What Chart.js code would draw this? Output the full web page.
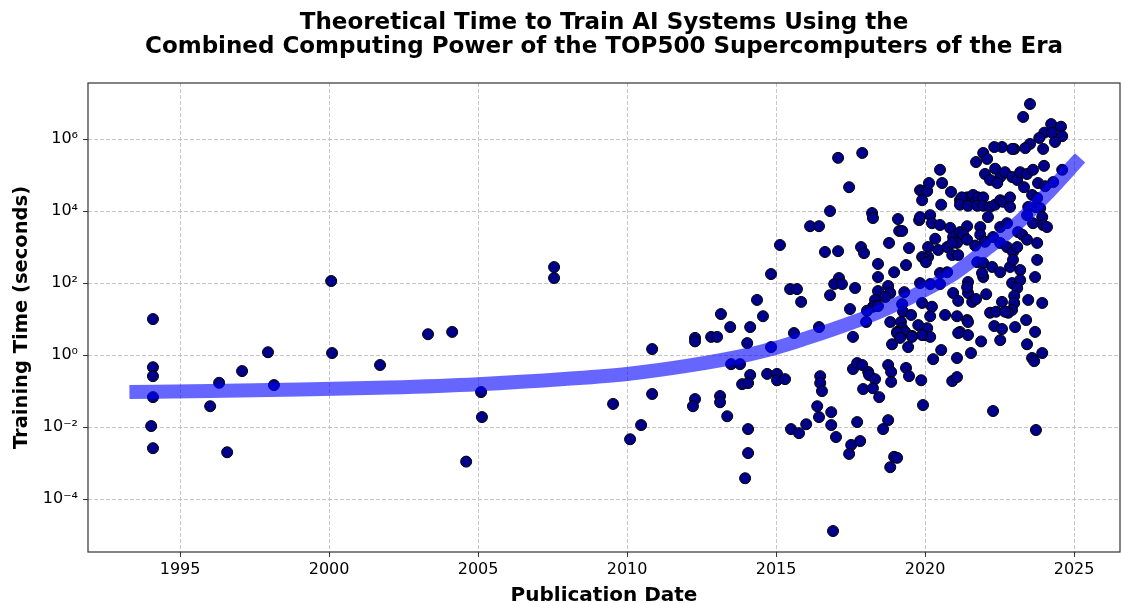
<!DOCTYPE html>
<html>
<head>
<meta charset="utf-8">
<script src="https://cdn.jsdelivr.net/npm/chart.js@4/dist/chart.umd.min.js"></script>
<style>
  html, body { margin: 0; padding: 0; background: #fff; }
  canvas { display: block; }
</style>
</head>
<body>
<canvas id="chart" width="1121" height="603"></canvas>
<script>
// publication date (decimal year) and training time in seconds
const pubYears = [
  1994.09, 1994.09, 1994.09, 1994.09, 1994.03, 1994.09, 1996.01, 1996.31, 1996.58, 1997.08,
  1997.95, 1998.15, 2000.07, 2000.10, 2001.71, 2003.32, 2004.13, 2005.10, 2005.13, 2004.60,
  2007.55, 2007.55, 2009.53, 2010.10, 2010.47, 2010.84, 2010.84,
  2012.28, 2012.28, 2012.82, 2013.02, 2013.15, 2013.46, 2014.13, 2014.36, 2014.56, 2014.83,
  2014.03, 2014.83, 2013.49, 2013.79, 2014.13, 2013.86, 2014.06, 2014.70, 2015.03, 2015.03,
  2015.30, 2012.28, 2012.21, 2013.12, 2013.12, 2013.36, 2014.06, 2014.06, 2013.96, 2015.13,
  2015.47, 2015.70, 2015.84, 2015.60, 2015.50, 2015.77, 2016.01,
  2017.08, 2017.89, 2017.45, 2016.81, 2018.22, 2018.25, 2016.14, 2016.44, 2019.09, 2019.13,
  2019.23, 2019.80, 2016.64, 2017.08, 2017.85, 2017.95, 2018.79, 2019.46, 2018.42, 2019.36,
  2018.96, 2018.42, 2016.81, 2017.11, 2016.95, 2017.21, 2017.65, 2017.48, 2018.42, 2018.76,
  2018.83, 2018.66, 2018.32, 2018.25, 2018.05, 2018.42, 2019.30, 2019.23, 2019.26, 2019.53,
  2018.83, 2019.19, 2019.23, 2019.06, 2019.33, 2019.56, 2019.77, 2018.02, 2016.44, 2017.58,
  2016.48, 2016.48, 2016.54, 2016.38, 2016.44, 2016.85, 2016.85, 2017.01, 2016.91, 2017.58,
  2017.72, 2017.89, 2018.09, 2018.12, 2018.32, 2017.92, 2018.25, 2018.46, 2017.72, 2017.52,
  2017.45, 2017.82, 2018.76, 2018.59, 2018.83, 2018.96, 2019.06, 2018.76, 2018.86, 2018.86,
  2019.36, 2019.46, 2019.87, 2019.93, 2018.89, 2019.06, 2019.16, 2019.43, 2019.56, 2020.00,
  2019.90,
  2019.83, 2019.93, 2020.07, 2019.90, 2020.13, 2020.57, 2020.50, 2020.87, 2020.54, 2021.17,
  2021.41, 2021.61, 2021.68, 2020.17, 2020.23, 2020.50, 2020.84, 2020.94, 2021.17, 2021.07,
  2020.10, 2020.34, 2020.44, 2020.10, 2020.74, 2020.91, 2021.11, 2020.91, 2019.90, 2020.00,
  2020.03, 2020.50, 2020.74, 2019.83, 2020.17, 2020.50, 2020.94, 2021.11, 2021.44, 2021.44,
  2021.41, 2020.23, 2020.17, 2020.67, 2021.07, 2021.41, 2020.07, 2020.17, 2019.90, 2021.17,
  2021.44, 2020.54, 2021.54, 2021.07, 2020.27, 2020.91, 2021.07,
  2023.52, 2023.29, 2024.23, 2024.56, 2024.00, 2024.26, 2024.60, 2023.83, 2024.36, 2023.52,
  2023.96, 2023.36, 2022.99, 2022.92, 2022.58, 2022.32, 2021.95, 2021.71, 2022.08, 2022.01,
  2022.35, 2022.52, 2022.68, 2022.92, 2023.09, 2023.19, 2023.42, 2023.62, 2023.99, 2023.32,
  2023.79, 2024.03, 2024.30, 2024.60, 2022.18, 2022.42, 2021.23, 2021.78, 2021.95, 2021.17,
  2021.44, 2021.75, 2021.95, 2022.18, 2022.35, 2022.52, 2022.62, 2022.85, 2022.85, 2023.46,
  2023.59, 2023.69, 2023.86, 2023.76, 2019.83, 2021.41, 2021.85, 2022.11, 2022.52, 2022.75,
  2023.12, 2023.42, 2023.62, 2023.93, 2023.96, 2024.09, 2021.28, 2021.41, 2021.68, 2021.85,
  2022.01, 2022.28, 2022.52, 2022.75, 2022.95, 2023.26, 2023.42, 2023.76, 2023.76, 2023.09,
  2021.75, 2021.95, 2022.25, 2021.95, 2022.52, 2022.85, 2022.95, 2023.19, 2023.69,
  2021.91, 2022.92, 2023.19, 2023.09, 2022.99, 2022.99, 2022.92, 2022.79, 2021.58, 2021.71,
  2022.05, 2022.58, 2023.46, 2023.93, 2021.44, 2022.18, 2022.38, 2022.68, 2022.32, 2022.58,
  2023.02, 2023.39, 2023.69, 2021.11, 2021.88, 2022.52, 2023.42, 2023.59, 2023.66, 2023.93,
  2022.28, 2023.72
];
const trainSeconds = [
  10, 0.46, 0.26, 0.068, 0.0107, 0.0026, 0.038, 0.17, 0.002, 0.36,
  1.2, 0.147, 114, 1.14, 0.53, 3.8, 4.4, 0.094, 0.019, 0.0011,
  278, 138, 0.044, 0.0046, 0.0114, 1.47, 0.083,
  3.0, 2.4, 3.2, 3.2, 13.8, 6.0, 6.0, 34, 12, 178,
  2.15, 1.67, 0.56, 0.56, 0.28, 0.156, 0.167, 0.3, 0.3, 0.2,
  0.215, 0.06, 0.038, 0.073, 0.049, 0.02, 0.0088, 0.0019, 0.00038, 1140,
  68, 68, 30, 4.1, 0.0088, 0.0068, 0.012,
  3.0e5, 4.1e5, 4.6e4, 1.0e4, 8800, 6400, 3800, 3800, 6000, 2800,
  2800, 5600, 730, 770, 1000, 680, 1300, 940, 340, 316,
  200, 147, 46, 138, 94, 94, 73, 19, 60, 83,
  53, 41, 34, 22, 17, 23, 56, 26, 16, 13,
  8.3, 8.3, 5.6, 4.4, 4.4, 3.4, 6.8, 8.3, 6.0, 3.2,
  0.26, 0.167, 0.1, 0.038, 0.019, 0.026, 0.0114, 0.0053, 1.3e-5, 0.41,
  0.6, 0.53, 0.34, 0.28, 0.215, 0.114, 0.12, 0.068, 0.0138, 0.0032,
  0.0018, 0.0041, 0.0156, 0.0088, 0.00077, 0.0015, 0.0014, 0.53, 0.34, 0.18,
  0.44, 0.26, 0.2, 0.041, 2.0, 4.1, 3.0, 1.67, 3.2, 3.6,
  28,
  3.8e4, 3.6e4, 3.6e4, 2.0e4, 6.0e4, 6.0e4, 1.4e5, 3.4e4, 1.5e4, 2.0e4,
  2.4e4, 2.8e4, 1.8e4, 7700, 4600, 4100, 3400, 1900, 2600, 1300,
  1000, 1700, 830, 530, 1000, 600, 600, 1300, 530, 460,
  380, 190, 200, 100, 94, 94, 53, 32, 107, 53,
  77, 22, 12, 13, 12, 9.4, 5.6, 3.2, 3.6, 4.4,
  3.6, 1.38, 1.14, 0.83, 0.77, 0.19, 0.245,
  9.4e6, 4.1e6, 2.6e6, 2.2e6, 1.5e6, 1.5e6, 1.2e6, 1.07e6, 8.3e5, 7.3e5,
  5.3e5, 5.6e5, 5.3e5, 5.3e5, 6.0e5, 6.0e5, 4.1e5, 2.3e5, 2.8e5, 1.07e5,
  1.5e5, 8.8e4, 1.2e5, 8.8e4, 7.3e4, 1.2e5, 1.07e5, 1.4e5, 1.8e5, 4.6e4,
  6.0e4, 4.9e4, 6.4e4, 1.4e5, 7.3e4, 6.0e4, 2.4e4, 2.4e4, 2.4e4, 1.5e4,
  1.4e4, 1.4e4, 1.4e4, 1.3e4, 1.5e4, 2.0e4, 1.8e4, 2.4e4, 1.3e4, 1.3e4,
  2.8e4, 1.3e4, 1.2e4, 2.3e4, 6800, 3800, 3600, 6800, 3600, 4600,
  2600, 7700, 4600, 6800, 4100, 3600, 2200, 1600, 1100, 2200,
  1400, 1900, 1300, 1000, 730, 2200, 1600, 1300, 440, 1000,
  380, 360, 280, 147, 200, 280, 440, 230, 147,
  190, 100, 121, 73, 44, 28, 18, 15, 30, 36,
  49, 30, 34, 28, 8.3, 15, 16, 16, 6.4, 5.3,
  6.0, 9.4, 4.4, 4.1, 2.4, 2.6, 2.0, 0.83, 0.68, 1.14,
  0.028, 0.0083
];

// fitted trend
const trendYears = [1993.3, 1996, 1999, 2002, 2005, 2008, 2010, 2012, 2014, 2015, 2016, 2017, 2018, 2019, 2020, 2021, 2022, 2023, 2024, 2025.2];
const trendSeconds = [0.095, 0.1, 0.11, 0.125, 0.155, 0.22, 0.3, 0.5, 1.0, 1.6, 2.9, 5.5, 11, 25, 65, 190, 800, 3800, 25000, 3.0e5];

const xTicks = [1995, 2000, 2005, 2010, 2015, 2020, 2025];
const yTicks = [1e-4, 1e-2, 1, 1e2, 1e4, 1e6];

const sup = { '-': '\u207B', '0': '\u2070', '1': '\u00B9', '2': '\u00B2', '3': '\u00B3',
  '4': '\u2074', '5': '\u2075', '6': '\u2076', '7': '\u2077', '8': '\u2078', '9': '\u2079' };
const powLabel = v => '10' + String(Math.round(Math.log10(v))).split('').map(c => sup[c]).join('');

// matplotlib-like box around the axes
const frame = {
  id: 'frame',
  afterDraw(chart) {
    const { ctx, chartArea: a } = chart;
    ctx.save();
    ctx.strokeStyle = '#333';
    ctx.lineWidth = 1.2;
    ctx.strokeRect(a.left, a.top, a.right - a.left, a.bottom - a.top);
    ctx.restore();
  }
};

const gridStyle = {
  color: '#b8b8b8',
  lineWidth: 0.8,
  tickColor: '#333',
  tickLength: 5,
  tickWidth: 1,
  tickBorderDash: []
};

new Chart(document.getElementById('chart'), {
  type: 'scatter',
  data: {
    datasets: [
      {
        type: 'line',
        data: trendYears.map((x, i) => ({ x, y: trendSeconds[i] })),
        borderColor: 'rgba(0, 0, 255, 0.6)',
        borderWidth: 14,
        borderCapStyle: 'butt',
        tension: 0.4,
        cubicInterpolationMode: 'monotone',
        pointRadius: 0,
        fill: false
      },
      {
        data: pubYears.map((x, i) => ({ x, y: trainSeconds[i] })),
        backgroundColor: '#00008b',
        borderColor: '#000',
        borderWidth: 1,
        pointRadius: 5.5
      }
    ]
  },
  options: {
    responsive: false,
    animation: false,
    devicePixelRatio: 1,
    layout: { autoPadding: false, padding: { left: 0, right: 1, top: 0, bottom: 0 } },
    plugins: {
      legend: { display: false },
      tooltip: { enabled: false },
      title: {
        display: true,
        fullSize: false,
        text: ['Theoretical Time to Train AI Systems Using the',
               'Combined Computing Power of the TOP500 Supercomputers of the Era'],
        color: '#000',
        font: { family: 'DejaVu Sans', size: 23, weight: 'bold', lineHeight: 1.05 },
        padding: { top: 11, bottom: 23.7 }
      }
    },
    scales: {
      x: {
        type: 'linear',
        min: 1991.91,
        max: 2026.54,
        afterBuildTicks: s => { s.ticks = xTicks.map(v => ({ value: v })); },
        afterFit: s => { s.height = 51; s.paddingLeft = 0; s.paddingRight = 0; },
        ticks: {
          color: '#000',
          font: { family: 'DejaVu Sans', size: 16 },
          padding: 3,
          maxRotation: 0,
          autoSkip: false,
          callback: v => String(v)
        },
        grid: gridStyle,
        border: { display: false, dash: [4, 2] },
        title: {
          display: true,
          text: 'Publication Date',
          color: '#000',
          font: { family: 'DejaVu Sans', size: 20, weight: 'bold', lineHeight: 0.75 },
          padding: 0
        }
      },
      y: {
        type: 'logarithmic',
        min: 3.4e-6,
        max: 3.6e7,
        afterBuildTicks: s => { s.ticks = yTicks.map(v => ({ value: v })); },
        afterFit: s => { s.width = 88; s.paddingTop = 0; s.paddingBottom = 0; },
        ticks: {
          color: '#000',
          font: { family: 'DejaVu Sans', size: 16 },
          padding: 5,
          autoSkip: false,
          callback: v => powLabel(v)
        },
        grid: gridStyle,
        border: { display: false, dash: [4, 2] },
        title: {
          display: true,
          text: 'Training Time (seconds)',
          color: '#000',
          font: { family: 'DejaVu Sans', size: 19.5, weight: 'bold', lineHeight: 1.2 },
          padding: { top: 10, bottom: 0 }
        }
      }
    }
  },
  plugins: [frame]
});
</script>
</body>
</html>
